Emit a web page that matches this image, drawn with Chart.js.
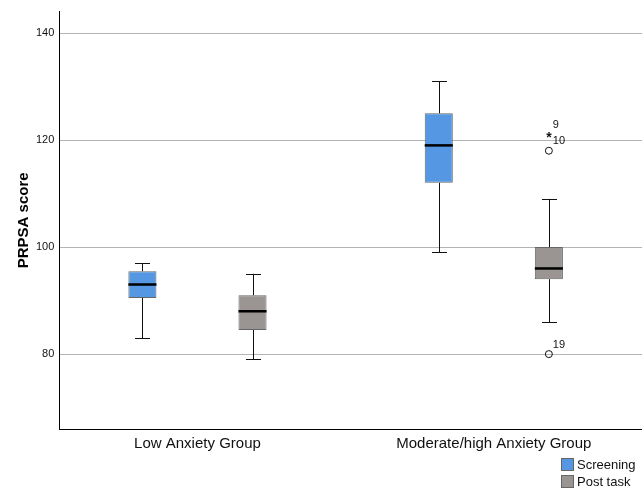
<!DOCTYPE html>
<html>
<head>
<meta charset="utf-8">
<script src="https://cdn.jsdelivr.net/npm/chart.js@4.4.1/dist/chart.umd.min.js"></script>
<style>
    html, body { margin: 0; padding: 0; background: #fff; }
    #wrap { position: relative; width: 642px; height: 488px; }
    #legend { position: absolute; left: 561px; top: 456px; font: 13px "Liberation Sans", Arial, sans-serif; color: #111; }
    #legend div { display: flex; align-items: center; height: 17px; }
    #legend span.sw { display: inline-block; width: 11px; height: 11px; border: 1px solid #666; margin-right: 3px; }
</style>
</head>
<body>
<div id="wrap">
    <canvas id="boxChart" width="642" height="488"></canvas>
    <div id="legend"></div>
</div>
<script>
const groups = ['Low Anxiety Group', 'Moderate/high Anxiety Group'];
const seriesNames = ['Screening', 'Post task'];
const seriesColors = ['#5597e2', '#9a9592'];
const yTicks = [80, 100, 120, 140];

// five-number summaries per group: [low whisker, Q1, median, Q3, high whisker]
const screeningStats = [[83, 90.5, 93, 95.5, 97], [99, 112, 119, 125, 131]];
const postTaskStats = [[79, 84.5, 88, 91, 95], [86, 94, 96, 100, 109]];

// outliers: [group index, value, case label, marker]
const screeningOutliers = [];
const postTaskOutliers = [[1, 121, '9', 'star'], [1, 118, '10', 'circle'], [1, 80, '19', 'circle']];

const allStats = [screeningStats, postTaskStats];
const allOutliers = [screeningOutliers, postTaskOutliers];

const boxPlugin = {
    id: 'boxWhiskers',
    afterDatasetsDraw(chart) {
        const ctx = chart.ctx;
        const y = chart.scales.y;
        ctx.save();
        chart.data.datasets.forEach(function (ds, di) {
            const meta = chart.getDatasetMeta(di);
            meta.data.forEach(function (bar, i) {
                const s = allStats[di][i];
                const x = Math.round(bar.x);
                const half = bar.width / 2;
                const cap = half * 0.5;
                ctx.strokeStyle = '#111';
                ctx.lineWidth = 1;
                ctx.beginPath();
                ctx.moveTo(x + 0.5, y.getPixelForValue(s[3]));
                ctx.lineTo(x + 0.5, y.getPixelForValue(s[4]));
                ctx.moveTo(x + 0.5, y.getPixelForValue(s[1]));
                ctx.lineTo(x + 0.5, y.getPixelForValue(s[0]));
                ctx.moveTo(x - cap, Math.round(y.getPixelForValue(s[4])) + 0.5);
                ctx.lineTo(x + cap + 1, Math.round(y.getPixelForValue(s[4])) + 0.5);
                ctx.moveTo(x - cap, Math.round(y.getPixelForValue(s[0])) + 0.5);
                ctx.lineTo(x + cap + 1, Math.round(y.getPixelForValue(s[0])) + 0.5);
                ctx.stroke();
                // median
                ctx.lineWidth = 2.5;
                ctx.strokeStyle = '#000';
                ctx.beginPath();
                ctx.moveTo(bar.x - half, y.getPixelForValue(s[2]));
                ctx.lineTo(bar.x + half, y.getPixelForValue(s[2]));
                ctx.stroke();
            });
            const xs = meta.data;
            allOutliers[di].forEach(function (o) {
                const x = xs[o[0]].x;
                const py = y.getPixelForValue(o[1]);
                ctx.strokeStyle = '#111';
                ctx.fillStyle = '#111';
                ctx.lineWidth = 1;
                if (o[3] === 'circle') {
                    ctx.beginPath();
                    ctx.arc(x, py, 3.5, 0, Math.PI * 2);
                    ctx.stroke();
                } else {
                    ctx.font = 'bold 14px "Liberation Sans", Arial, sans-serif';
                    ctx.textAlign = 'center';
                    ctx.textBaseline = 'middle';
                    ctx.fillText('*', x, py + 3);
                }
                ctx.font = '11px "Liberation Sans", Arial, sans-serif';
                ctx.textAlign = 'left';
                ctx.textBaseline = 'bottom';
                ctx.fillText(o[2], x + 4, py - 4);
            });
        });
        ctx.restore();
    }
};

const ctx = document.getElementById('boxChart').getContext('2d');
const chart = new Chart(ctx, {
    type: 'bar',
    data: {
        datasets: [0, 1].map(function (k) {
            return {
                label: seriesNames[k],
                data: allStats[k].map((s, i) => ({ x: i, y: [s[1], s[3]] })),
                backgroundColor: seriesColors[k],
                borderColor: '#666',
                borderWidth: 1,
                borderSkipped: false,
                barPercentage: 0.255,
                categoryPercentage: 0.743
            };
        })
    },
    options: {
        responsive: false,
        animation: false,
        layout: { padding: { left: 16, top: 7, right: 0, bottom: 29 } },
        plugins: { legend: { display: false }, tooltip: { enabled: false } },
        scales: {
            x: {
                type: 'linear',
                min: -0.466,
                max: 1.5,
                offset: false,
                afterBuildTicks: function (scale) {
                    scale.ticks = groups.map((g, i) => ({ value: i }));
                },
                grid: { display: false, drawTicks: false },
                border: { color: '#000', width: 1 },
                ticks: {
                    color: '#111',
                    font: { size: 15, family: '"Liberation Sans", Arial, sans-serif' },
                    padding: 6,
                    callback: v => groups[v]
                }
            },
            y: {
                min: 66,
                max: 144,
                afterBuildTicks: function (scale) {
                    scale.ticks = yTicks.map(v => ({ value: v }));
                },
                grid: { color: '#b4b4b4', drawTicks: false },
                border: { color: '#000', width: 1 },
                ticks: { color: '#111', font: { size: 11, family: '"Liberation Sans", Arial, sans-serif' }, padding: 5 },
                title: {
                    display: true,
                    text: 'PRPSA score',
                    color: '#000',
                    font: { size: 15, weight: 'bold', family: '"Liberation Sans", Arial, sans-serif', lineHeight: 1 },
                    padding: { top: 0, bottom: 0 }
                }
            }
        }
    },
    plugins: [boxPlugin]
});

document.getElementById('legend').innerHTML = seriesNames.map(function (n, k) {
    return '<div><span class="sw" style="background:' + seriesColors[k] + '"></span>' + n + '</div>';
}).join('');
</script>
</body>
</html>
